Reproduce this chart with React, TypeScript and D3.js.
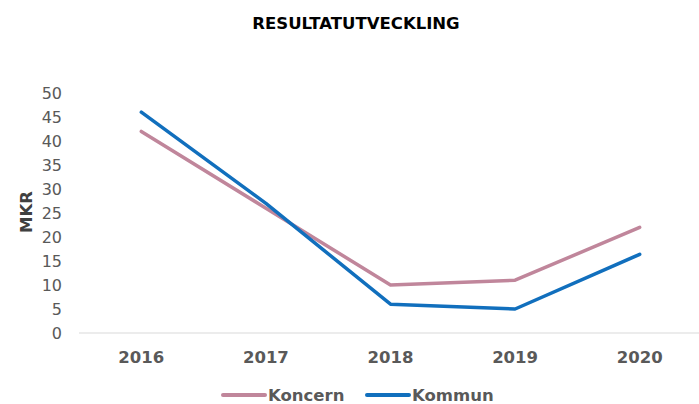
import React from "react";
import * as d3 from "d3";

const years = ["2016", "2017", "2018", "2019", "2020"];
const koncern = [42, 26, 10, 11, 22];
const kommun = [46, 27, 6, 5, 16.4];
const yTicks = [0, 5, 10, 15, 20, 25, 30, 35, 40, 45, 50];
const seriesNames = ["Koncern", "Kommun"];
const colors = ["#C0869B", "#116FBD"];

const W = 699;
const H = 404;
const FONT = "'DejaVu Sans', Verdana, sans-serif";

export default function App() {
  const x = d3.scaleBand<string>().domain(years).range([79, 702]);
  const y = d3.scaleLinear().domain([0, 50]).range([333, 93]);
  const line = d3
    .line<number>()
    .x((_, i) => (x(years[i]) as number) + x.bandwidth() / 2)
    .y((d) => y(d));
  const series = [koncern, kommun];

  return (
    <svg
      width={W}
      height={H}
      style={{ position: "absolute", left: 0, top: 0, background: "#fff" }}
      fontFamily={FONT}
    >
      <text x={356} y={29} textAnchor="middle" fontSize={16.5} fontWeight="bold" fill="#000">
        RESULTATUTVECKLING
      </text>
      {yTicks.map((t) => (
        <text key={t} x={62} y={y(t)} dy="0.35em" textAnchor="end" fontSize={16} fill="#595959">
          {t}
        </text>
      ))}
      <text
        transform={`translate(26,${212}) rotate(-90)`}
        textAnchor="middle"
        dy="0.35em"
        fontSize={16.5}
        fontWeight="bold"
        fill="#404040"
      >
        MKR
      </text>
      <line x1={79} x2={699} y1={y(0)} y2={y(0)} stroke="#d9d9d9" strokeWidth={1} />
      {years.map((yr) => (
        <text
          key={yr}
          x={(x(yr) as number) + x.bandwidth() / 2}
          y={363}
          textAnchor="middle"
          fontSize={16.5}
          fontWeight="bold"
          fill="#595959"
        >
          {yr}
        </text>
      ))}
      {series.map((s, i) => (
        <path
          key={i}
          d={line(s) || ""}
          fill="none"
          stroke={colors[i]}
          strokeWidth={3.5}
          strokeLinecap="round"
          strokeLinejoin="round"
        />
      ))}
      {seriesNames.map((n, i) => {
        const lx = [223, 367][i];
        return (
          <g key={n}>
            <line x1={lx} x2={lx + 42} y1={395} y2={395} stroke={colors[i]} strokeWidth={4} strokeLinecap="round" />
            <text x={lx + 45} y={395} dy="0.35em" fontSize={16.5} fontWeight="bold" fill="#595959">
              {n}
            </text>
          </g>
        );
      })}
    </svg>
  );
}
